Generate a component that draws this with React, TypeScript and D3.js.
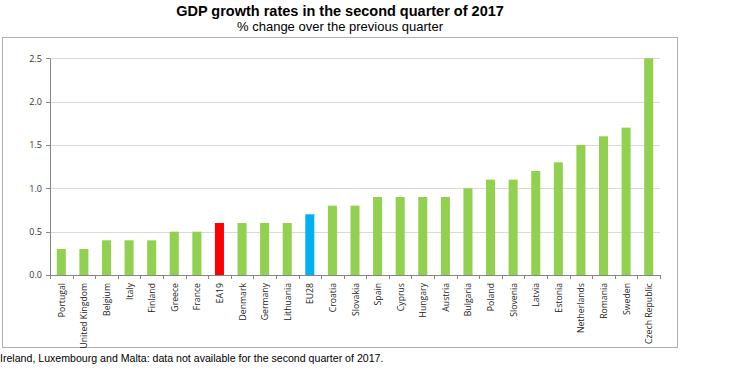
import React from "react";
import * as d3 from "d3";

const categories = ["Portugal","United Kingdom","Belgium","Italy","Finland","Greece","France","EA19","Denmark","Germany","Lithuania","EU28","Croatia","Slovakia","Spain","Cyprus","Hungary","Austria","Bulgaria","Poland","Slovenia","Latvia","Estonia","Netherlands","Romania","Sweden","Czech Republic"];
const values = [0.3,0.3,0.4,0.4,0.4,0.5,0.5,0.6,0.6,0.6,0.6,0.7,0.8,0.8,0.9,0.9,0.9,0.9,1.0,1.1,1.1,1.2,1.3,1.5,1.6,1.7,2.5];
const yTicks = [0, 0.5, 1.0, 1.5, 2.0, 2.5];
const highlight: Record<string, string> = { EA19: "#FF0000", EU28: "#00B0F0" };
const title = "GDP growth rates in the second quarter of 2017";
const subtitle = "% change over the previous quarter";
const footnote = "Ireland, Luxembourg and Malta: data not available for the second quarter of 2017.";

export default function App() {
  const W = 750, H = 368;
  const left = 50, right = 660, top = 58.3, bottom = 275;
  const x = d3.scaleBand<string>().domain(categories).range([left, right]).paddingInner(0.6).paddingOuter(0.3);
  const xs = d3.scaleBand<string>().domain(categories).range([left, right]);
  const y = d3.scaleLinear().domain([0, 2.5]).range([bottom, top]);
  const font = "'Liberation Sans', Arial, sans-serif";
  const lblFont = "'Open Sans', 'Noto Sans', sans-serif";
  return (
    <svg width={W} height={H} style={{ position: "absolute", left: 0, top: 0, background: "#fff" }}>
      <text x={340} y={16} textAnchor="middle" fontFamily={font} fontWeight="bold" fontSize={14.5} fill="#000">{title}</text>
      <text x={340} y={30.5} textAnchor="middle" fontFamily={font} fontSize={13} fill="#000">{subtitle}</text>
      <rect x={2.5} y={37.5} width={675} height={310} fill="none" stroke="#b0b0b0" strokeWidth={1} />
      {yTicks.map((t) => (
        <g key={t}>
          {t > 0 && <line x1={left} x2={right} y1={Math.round(y(t)) + 0.5} y2={Math.round(y(t)) + 0.5} stroke="#d9d9d9" strokeWidth={1} />}
          <line x1={left - 4} x2={left} y1={Math.round(y(t)) + 0.5} y2={Math.round(y(t)) + 0.5} stroke="#868686" />
          <text x={left - 8} y={y(t) + 3.2} textAnchor="end" fontFamily={lblFont} fontSize={9} fill="#333">{t.toFixed(1)}</text>
        </g>
      ))}
      {categories.map((c, i) => (
        <rect key={c} x={x(c)!} y={y(values[i])} width={x.bandwidth()} height={bottom - y(values[i])} fill={highlight[c] || "#92D050"} />
      ))}
      <line x1={left + 0.5} x2={left + 0.5} y1={top} y2={bottom} stroke="#868686" />
      <line x1={left} x2={right} y1={bottom + 0.5} y2={bottom + 0.5} stroke="#868686" />
      {categories.map((c) => (
        <line key={"t" + c} x1={Math.round(xs(c)! + xs.bandwidth()) + 0.5} x2={Math.round(xs(c)! + xs.bandwidth()) + 0.5} y1={bottom} y2={bottom + 4} stroke="#868686" />
      ))}
      <line x1={left + 0.5} x2={left + 0.5} y1={bottom} y2={bottom + 4} stroke="#868686" />
      {categories.map((c) => {
        const cx = xs(c)! + xs.bandwidth() / 2;
        return (
          <text key={"l" + c} transform={`translate(${cx + 3.5},${bottom + 8}) rotate(-90)`} textAnchor="end" fontFamily={lblFont} fontSize={8.7} fill="#222">{c}</text>
        );
      })}
      <text x={0} y={362} fontFamily={font} fontSize={10.6} fill="#000">{footnote}</text>
    </svg>
  );
}
